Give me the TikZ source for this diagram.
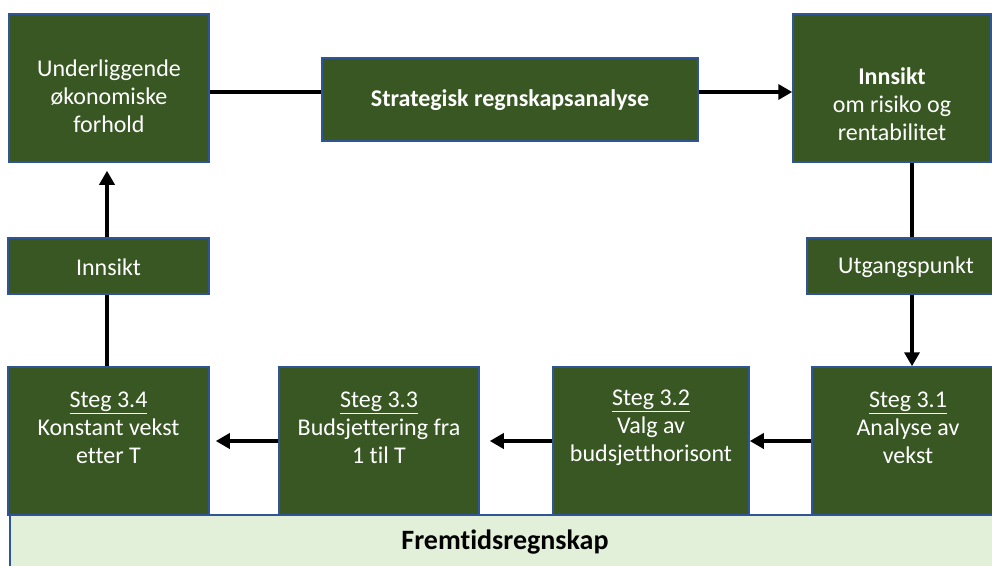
\documentclass[tikz,border=0pt]{standalone}
\usepackage{fontspec}
\setmainfont{Carlito}[Ligatures=NoCommon]
\usetikzlibrary{arrows.meta,calc}
\definecolor{dg}{HTML}{385723}
\definecolor{bb}{HTML}{2F5597}
\definecolor{lg}{HTML}{E2F0D9}
\begin{document}
\begin{tikzpicture}[x=1pt,y=-1pt,
  box/.style={draw=bb,line width=1.5pt,fill=dg,rectangle,inner sep=0pt},
  wtxt/.style={text=white,align=center,font=\fontsize{24}{28}\selectfont,inner sep=0pt},
  conn/.style={line width=4pt,draw=black},
  arr/.style={conn,-{Triangle[length=14pt,width=15pt]}}]
\clip (0,0) rectangle (992,565);
\fill[white] (0,0) rectangle (992,565);
% boxes
\node[box,minimum width=200pt,minimum height=148pt] (u) at (109,88) {};
\node[wtxt] (ut1) at (109,96) {Underliggende\\økonomiske\\forhold};
\node[box,minimum width=376pt,minimum height=83pt] (sr) at (510,99.5) {};
\node[wtxt,font=\fontsize{24}{28}\selectfont\bfseries] (srt) at (510,100) {Strategisk regnskapsanalyse};
\node[box,minimum width=198pt,minimum height=148pt] (ir) at (892,88) {};
\node[wtxt] (irt) at (892,104) {\textbf{Innsikt}\\om risiko og\\rentabilitet};
\node[box,minimum width=198pt,minimum height=56pt] (ug) at (906,266) {};
\node[wtxt] (ugt) at (906,267) {Utgangspunkt};
\node[box,minimum width=201pt,minimum height=56pt] (in) at (108.5,266) {};
\node[wtxt] (int) at (108.5,267) {Innsikt};
% steps
\node[box,minimum width=201pt,minimum height=148pt] (s34) at (108.5,441) {};
\node[wtxt] (s34t) at (108.5,428) {\underline{Steg 3.4}\\Konstant vekst\\etter T};
\node[box,minimum width=200pt,minimum height=148pt] (s33) at (379,441) {};
\node[wtxt] (s33t) at (379,428) {\underline{Steg 3.3}\\Budsjettering fra\\1 til T};
\node[box,minimum width=196pt,minimum height=148pt] (s32) at (651,441) {};
\node[wtxt] (s32t) at (651,428) {\underline{Steg 3.2}\\Valg av\\budsjetthorisont};
\node[box,minimum width=200pt,minimum height=148pt] (s31) at (912,441) {};
\node[wtxt] (s31t) at (908,428) {\underline{Steg 3.1}\\Analyse av\\vekst};
% bar
\node[draw=bb,line width=1.5pt,fill=lg,minimum width=990pt,minimum height=62pt,inner sep=0pt] (bar) at (505,546) {};
\node[font=\fontsize{28}{32}\selectfont\bfseries,text=black,inner sep=0pt] (bart) at (505,542) {Fremtidsregnskap};
% connectors
\coordinate (ty) at (0,92);
\draw[conn] (u.east |- ty) -- (sr.west |- ty);
\draw[arr] (sr.east |- ty) -- (ir.west |- ty);
\draw[conn] (ir.south -| s31.north) -- (ug.north -| s31.north);
\draw[arr] (ug.south -| s31.north) -- (s31.north);
\draw[arr] (s31.west) -- (s32.east);
\draw[arr,shorten >=10pt] (s32.west) -- (s33.east);
\draw[arr,shorten >=6pt] (s33.west) -- (s34.east);
\draw[conn] (s34.north -| 107,0) -- (in.south -| 107,0);
\draw[arr,shorten >=8pt] (in.north -| 107,0) -- (u.south -| 107,0);
\end{tikzpicture}
\end{document}
